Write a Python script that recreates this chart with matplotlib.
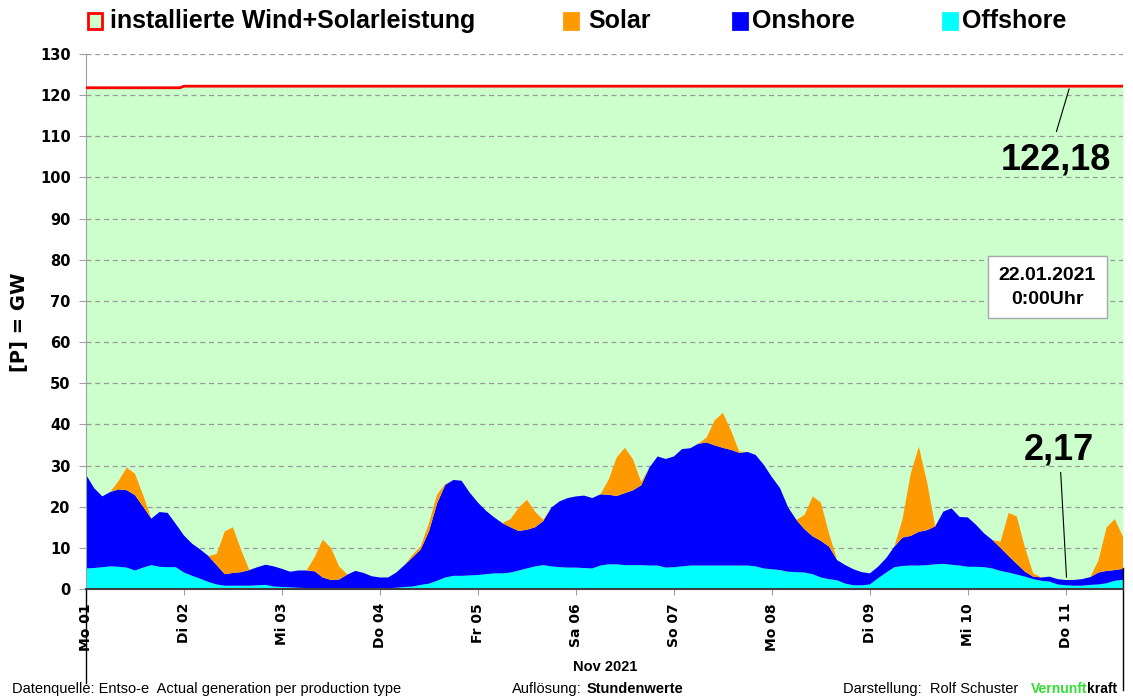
import numpy as np
import matplotlib.pyplot as plt
from matplotlib.patches import Rectangle

# hourly values, 2-hour steps starting Mo 01 0:00
hours = np.arange(0, 256, 2)

offshore = [
    5.0, 5.1, 5.3, 5.5, 5.4, 5.2, 4.5, 5.2, 5.8, 5.4, 5.3, 5.3,
    4.0, 3.2, 2.5, 1.7, 1.1, 0.8, 0.8, 0.8, 0.8, 0.9, 1.0, 0.6,
    0.5, 0.4, 0.3, 0.2, 0.2, 0.2, 0.2, 0.2, 0.2, 0.2, 0.2, 0.2,
    0.2, 0.2, 0.3, 0.5, 0.6, 1.0, 1.3, 2.0, 2.8, 3.2, 3.2, 3.3,
    3.4, 3.6, 3.8, 3.8, 4.0, 4.5, 5.0, 5.5, 5.8, 5.5, 5.3, 5.2,
    5.2, 5.1, 5.0, 5.7, 6.0, 6.0, 5.8, 5.8, 5.8, 5.7, 5.7, 5.2,
    5.3, 5.5, 5.7, 5.7, 5.7, 5.7, 5.7, 5.7, 5.7, 5.7, 5.5, 5.0,
    4.8, 4.6, 4.2, 4.1, 4.0, 3.6, 2.8, 2.4, 2.1, 1.3, 0.9, 0.9,
    1.1, 2.6, 4.0, 5.3, 5.6, 5.7, 5.7, 5.8, 6.0, 6.1, 5.9, 5.7,
    5.4, 5.4, 5.3, 5.0, 4.4, 4.0, 3.5, 3.0, 2.4, 2.0, 1.8, 1.1,
    0.9, 0.8, 0.8, 1.0, 1.1, 1.4, 2.0, 2.2,
]

onshore = [
    22.8, 19.4, 17.2, 18.1, 18.8, 18.8, 18.3, 14.8, 11.3, 13.3, 13.2, 10.5,
    9.0, 7.8, 7.1, 6.3, 4.7, 2.8, 3.1, 3.3, 3.8, 4.4, 4.9, 4.9,
    4.4, 3.8, 4.2, 4.3, 4.1, 2.6, 2.0, 2.1, 3.3, 4.2, 3.7, 2.9,
    2.6, 2.6, 3.7, 5.3, 7.1, 8.6, 12.7, 18.8, 22.5, 23.3, 23.1, 20.1,
    17.6, 15.4, 13.6, 12.2, 11.0, 9.6, 9.4, 9.5, 10.7, 14.3, 16.0, 16.9,
    17.3, 17.6, 17.1, 17.3, 16.9, 16.6, 17.5, 18.2, 19.4, 23.8, 26.5, 26.4,
    26.9, 28.5, 28.5, 29.6, 29.9, 29.2, 28.6, 28.1, 27.4, 27.6, 27.1, 25.2,
    22.4, 19.9, 15.6, 12.7, 10.5, 9.2, 8.9, 7.9, 4.9, 4.5, 3.9, 3.2,
    2.7, 2.8, 3.5, 5.0, 6.9, 7.2, 8.2, 8.5, 9.2, 12.7, 13.7, 11.8,
    12.0, 10.2, 8.2, 6.9, 5.6, 4.0, 2.6, 1.2, 0.6, 0.8, 1.2, 1.3,
    1.27, 1.4, 1.6, 1.9, 2.9, 3.0, 2.6, 2.7,
]

solar = [
    0, 0, 0, 0, 2.1, 5.5, 5.2, 2.8, 0, 0, 0, 0,
    0, 0, 0, 0, 2.7, 10.4, 11.1, 5.4, 0, 0, 0, 0,
    0, 0, 0, 0, 3.4, 9.2, 7.8, 3.2, 0, 0, 0, 0,
    0, 0, 0, 0, 0.6, 0.8, 2.0, 2.2, 0.2, 0, 0, 0,
    0, 0, 0, 0, 2.0, 5.7, 7.3, 3.8, 0.3, 0, 0, 0,
    0, 0, 0, 0, 3.6, 9.4, 11.0, 7.5, 0.8, 0, 0, 0,
    0, 0, 0, 0, 1.2, 6.1, 8.5, 4.7, 0.3, 0, 0, 0,
    0, 0, 0, 0, 3.5, 9.7, 9.3, 3.2, 0, 0, 0, 0,
    0, 0, 0, 0, 4.5, 15.1, 20.7, 11.7, 0.1, 0, 0, 0,
    0, 0, 0, 0, 1.5, 10.5, 11.5, 5.8, 0.8, 0, 0, 0,
    0, 0, 0, 0, 3.0, 10.6, 12.4, 7.8,
]

installed_hours = [0, 23, 24, 254]
installed = [121.8, 121.8, 122.18, 122.18]

day_ticks = np.arange(0, 241, 24)
day_labels = ['Mo 01', 'Di 02', 'Mi 03', 'Do 04', 'Fr 05', 'Sa 06',
              'So 07', 'Mo 08', 'Di 09', 'Mi 10', 'Do 11']

c_green = '#CCFFCC'
c_solar = '#FF9900'
c_on = '#0000FF'
c_off = '#00FFFF'
arial = 'Liberation Sans'

fig = plt.figure(figsize=(11.33, 6.98), dpi=100)
ax = fig.add_axes([86 / 1133, 1 - 589 / 698, 1037 / 1133, 535 / 698])

ax.fill_between(installed_hours, 0, installed, color=c_green, lw=0, zorder=0)
ax.stackplot(hours, offshore, onshore, solar,
             colors=[c_off, c_on, c_solar], lw=0, zorder=2)
ax.plot(installed_hours, installed, color='#FF0000', lw=2, zorder=3)

ax.set_xlim(0, 254)
ax.set_ylim(0, 130)
ax.set_yticks(np.arange(0, 131, 10))
ax.set_xticks(day_ticks)
ax.set_xticklabels(day_labels, rotation=90, fontsize=10, fontweight='bold')
for lab in ax.get_yticklabels():
    lab.set_fontweight('bold')
    lab.set_fontsize(10.5)
ax.tick_params(axis='y', length=5, color='#A0A0A0', pad=6)
ax.tick_params(axis='x', length=4, color='#A0A0A0', pad=6)

ax.set_axisbelow(True)
ax.yaxis.grid(True, ls=(0, (4, 3)), color='#9A9A9A', lw=0.9)
ax.spines['top'].set_visible(False)
ax.spines['right'].set_visible(False)
ax.spines['left'].set_color('#A0A0A0')
ax.spines['bottom'].set_color('#404040')
ax.spines['bottom'].set_linewidth(1.5)
ax.spines['bottom'].set_zorder(4)

# long tick lines at both ends of the time axis
ax.plot([0, 0], [0, -0.176], transform=ax.transAxes, color='black', lw=1, clip_on=False)
ax.plot([1, 1], [0.04, -0.189], transform=ax.transAxes, color='black', lw=1, clip_on=False)

fig.text(20 / 1133, 1 - 322 / 698, '[P] = GW', rotation=90, fontsize=14,
         fontweight='bold', ha='center', va='center')

# annotations
ax.annotate('', xy=(241, 122.18), xytext=(237.5, 110.5),
            arrowprops=dict(arrowstyle='-', color='black', lw=0.8))
ax.text(237.5, 104.3, '122,18', ha='center', va='center', fontsize=26,
        fontweight='bold', family=arial)
ax.annotate('', xy=(240.2, 2.17), xytext=(238.7, 29),
            arrowprops=dict(arrowstyle='-', color='black', lw=0.8))
ax.text(238.2, 33.8, '2,17', ha='center', va='center', fontsize=26,
        fontweight='bold', family=arial)
ax.text(235.5, 73.3, '22.01.2021\n0:00Uhr', ha='center', va='center',
        fontsize=14, fontweight='bold', family=arial, linespacing=1.5,
        bbox=dict(boxstyle='square,pad=0.55', fc='white', ec='#A8A8A8', lw=1))

# legend
legend_items = [
    ('installierte Wind+Solarleistung', c_green, '#FF0000', 88, 110),
    ('Solar', c_solar, c_solar, 564, 588),
    ('Onshore', c_on, c_on, 733, 752),
    ('Offshore', c_off, c_off, 943, 962),
]
for label, fc, ec, xs, xt in legend_items:
    fig.patches.append(Rectangle((xs / 1133, 1 - 29 / 698), 14 / 1133, 16 / 698,
                                 transform=fig.transFigure, fc=fc, ec=ec, lw=2))
    fig.text(xt / 1133, 1 - 21 / 698, label, fontsize=18, fontweight='bold',
             family=arial, va='center', ha='left')

# footer
fig.text(605 / 1133, 1 - 667 / 698, 'Nov 2021', fontsize=10.5, fontweight='bold',
         family=arial, ha='center', va='center')
fy = 1 - 689 / 698
fig.text(12 / 1133, fy, 'Datenquelle: Entso-e  Actual generation per production type',
         fontsize=10.5, family=arial, va='center')
fig.text(512 / 1133, fy, 'Auflösung:', fontsize=10.5, family=arial, va='center')
fig.text(587 / 1133, fy, 'Stundenwerte', fontsize=10.5, fontweight='bold',
         family=arial, va='center')
fig.text(843 / 1133, fy, 'Darstellung:  Rolf Schuster', fontsize=10.5,
         family=arial, va='center')

renderer = fig.canvas.get_renderer()
t1 = fig.text(1031 / 1133, fy, 'Vernunft', fontsize=10, fontweight='bold',
              family=arial, color='#33DD33', va='center')
bb = t1.get_window_extent(renderer)
fig.text(bb.x1 / fig.bbox.width, fy, 'kraft', fontsize=10, fontweight='bold',
         family=arial, va='center')

fig.savefig('out.png', dpi=100)
